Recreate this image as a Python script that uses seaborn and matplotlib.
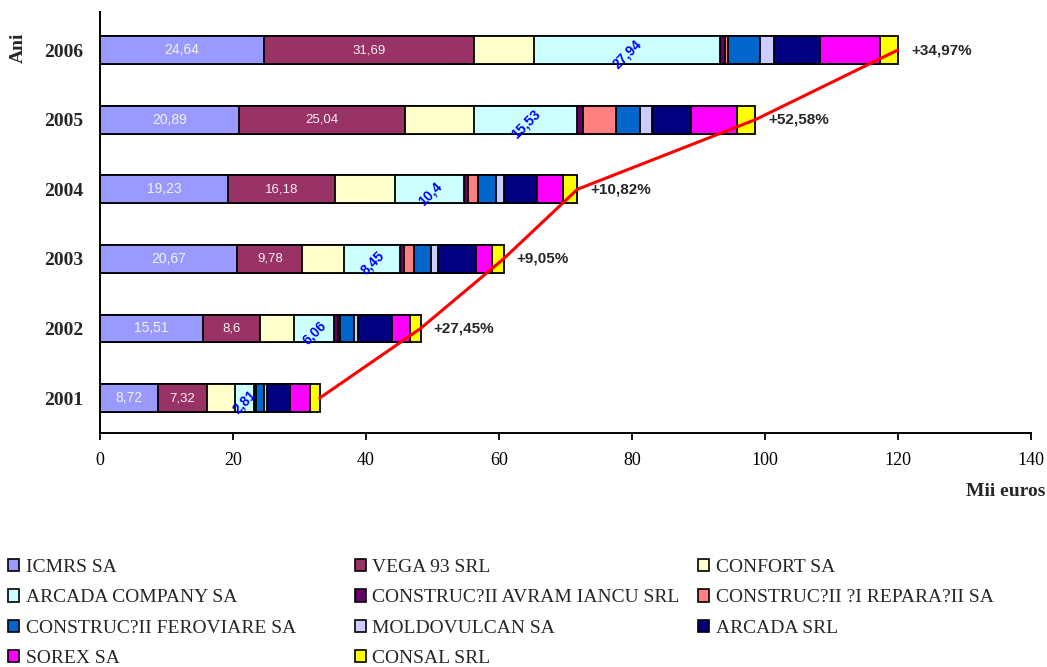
import numpy as np
import matplotlib.pyplot as plt
import matplotlib.patches as mpatches
import pandas as pd
import seaborn as sns

years = ['2006', '2005', '2004', '2003', '2002', '2001']
firms = ['ICMRS SA', 'VEGA 93 SRL', 'CONFORT SA', 'ARCADA COMPANY SA',
         'CONSTRUC?II AVRAM IANCU SRL', 'CONSTRUC?II ?I REPARA?II SA',
         'CONSTRUC?II FEROVIARE SA', 'MOLDOVULCAN SA', 'ARCADA SRL',
         'SOREX SA', 'CONSAL SRL']
colors = ['#9999FF', '#993366', '#FFFFCC', '#CCFFFF', '#660066', '#FF8080',
          '#0066CC', '#CCCCFF', '#000080', '#FF00FF', '#FFFF00']

icmrs = [24.64, 20.89, 19.23, 20.67, 15.51, 8.72]
vega = [31.69, 25.04, 16.18, 9.78, 8.6, 7.32]
confort = [9.0, 10.3, 9.0, 6.3, 5.1, 4.3]
arcada_company = [27.94, 15.53, 10.4, 8.45, 6.06, 2.81]
avram_iancu = [0.7, 0.9, 0.6, 0.6, 0.5, 0.2]
reparatii = [0.5, 5.0, 1.5, 1.5, 0.3, 0.1]
feroviare = [4.8, 3.5, 2.7, 2.5, 2.2, 1.2]
moldovulcan = [2.1, 1.9, 1.2, 1.1, 0.6, 0.5]
arcada_srl = [7.0, 5.9, 4.9, 5.6, 5.0, 3.5]
sorex = [9.0, 6.9, 4.0, 2.4, 2.75, 2.9]
consal = [2.6, 2.7, 2.1, 1.8, 1.6, 1.5]

growth = ['+34,97%', '+52,58%', '+10,82%', '+9,05%', '+27,45%', '']

series = [icmrs, vega, confort, arcada_company, avram_iancu, reparatii,
          feroviare, moldovulcan, arcada_srl, sorex, consal]
df = pd.DataFrame(np.array(series).T, columns=firms)
df['year'] = years
cum = df[firms].cumsum(axis=1)
totals = cum[firms[-1]].to_numpy()

sns.set_style('ticks')
plt.rcParams['font.family'] = ['Liberation Serif', 'DejaVu Serif']

fig = plt.figure(figsize=(10.47, 6.67), dpi=100)
ax = fig.add_axes([0.0955, 0.3508, 0.889, 0.631])

# stacked bars: draw cumulative widths from the longest down
for i in reversed(range(len(firms))):
    sns.barplot(x=cum[firms[i]], y=df['year'], order=years, orient='h',
                color=colors[i], saturation=1, width=0.4,
                edgecolor='black', linewidth=1.3, ax=ax)

pos = np.arange(len(years))
ax.plot(totals, pos, color='red', lw=2.2, zorder=5)

sans = ['Liberation Sans', 'DejaVu Sans']
for k in range(len(years)):
    ax.text(icmrs[k] / 2, pos[k], f'{icmrs[k]:g}'.replace('.', ','),
            ha='center', va='center', color='#F2F2F2', fontsize=10, family=sans)
    ax.text(icmrs[k] + vega[k] / 2, pos[k], f'{vega[k]:g}'.replace('.', ','),
            ha='center', va='center', color='#F2F2F2', fontsize=9.5, family=sans)
    start = cum[firms[2]].iloc[k]
    ax.text(start + arcada_company[k] / 2, pos[k] + 0.06,
            f'{arcada_company[k]:g}'.replace('.', ','), rotation=45,
            ha='center', va='center', color='#0000FF', fontsize=10,
            fontweight='bold', family=sans, zorder=6)
    if growth[k]:
        ax.text(totals[k] + 2.0, pos[k], growth[k], ha='left', va='center',
                fontsize=11, fontweight='bold', family=sans)

ax.set_xlim(0, 140)
ax.set_xticks(range(0, 141, 20))
ax.set_ylim(5.503, -0.546)
ax.set_xlabel('')
ax.set_ylabel('')
sns.despine(ax=ax)
for s in ['left', 'bottom']:
    ax.spines[s].set_linewidth(1.4)
    ax.spines[s].set_color('black')
ax.tick_params(axis='x', length=5, width=1.3, pad=9, labelsize=13, colors='black')
ax.tick_params(axis='y', length=0, pad=12, labelsize=14)
for t in ax.get_yticklabels():
    t.set_fontweight('bold')

fig.text(18 / 1047, 1 - 48 / 667, 'Ani', rotation=90, ha='center', va='center',
         fontsize=14, fontweight='bold')
fig.text(1045 / 1047, 1 - 492 / 667, 'Mii euros', ha='right', va='center',
         fontsize=14, fontweight='bold')

# legend in three manually placed columns (row-major order like the original)
handles = [mpatches.Patch(facecolor=c, edgecolor='black', linewidth=1.2) for c in colors]
col_x = [8, 355, 698]
for c in range(3):
    idx = list(range(c, len(firms), 3))
    leg = fig.legend([handles[j] for j in idx], [firms[j] for j in idx],
                     loc='upper left', bbox_to_anchor=(col_x[c] / 1047, 1 - 559 / 667),
                     frameon=False, fontsize=14, handlelength=0.55, handleheight=0.6,
                     handletextpad=0.35, labelspacing=0.68, borderpad=0, borderaxespad=0)

fig.savefig('out.png', dpi=100)
plt.close()
